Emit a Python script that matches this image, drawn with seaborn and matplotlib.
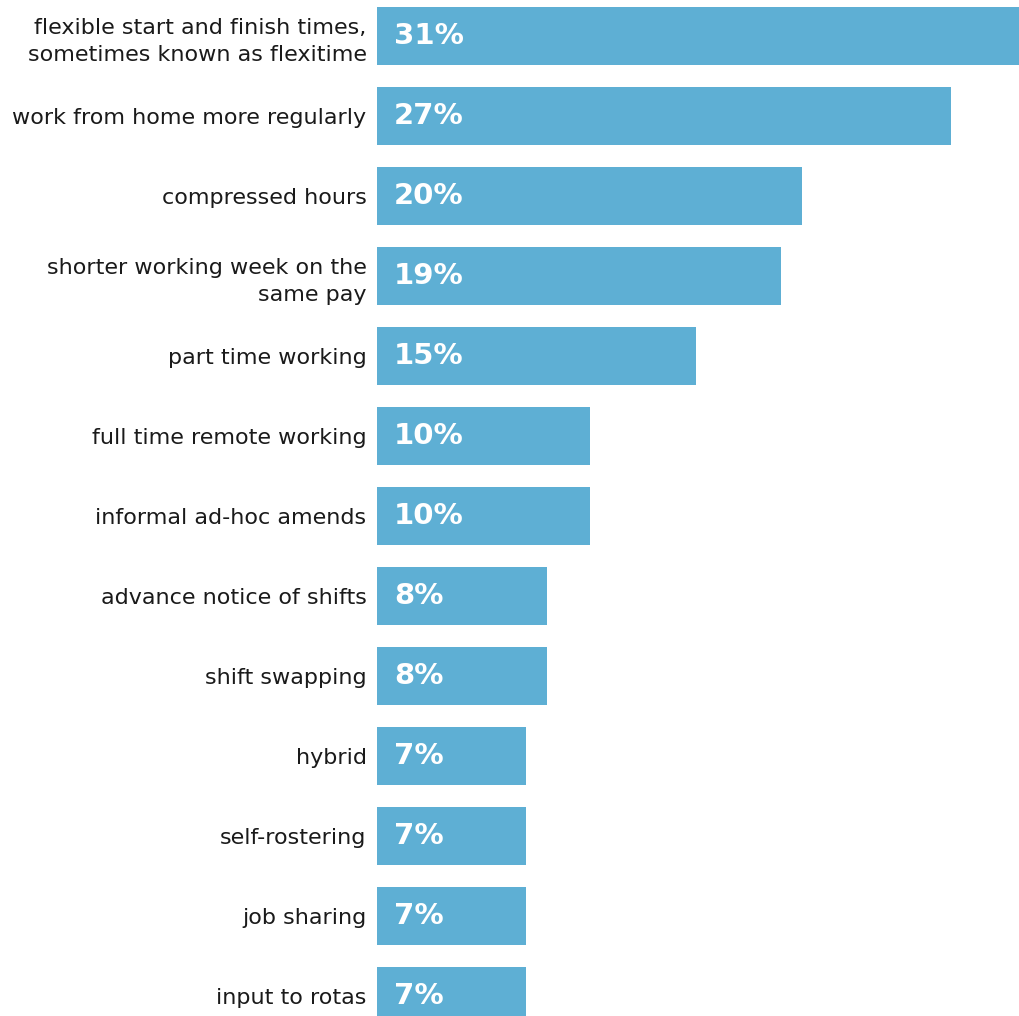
import matplotlib
matplotlib.use("Agg")
import matplotlib.pyplot as plt
import seaborn as sns
import pandas as pd

categories = [
    "flexible start and finish times,\nsometimes known as flexitime",
    "work from home more regularly",
    "compressed hours",
    "shorter working week on the\nsame pay",
    "part time working",
    "full time remote working",
    "informal ad-hoc amends",
    "advance notice of shifts",
    "shift swapping",
    "hybrid",
    "self-rostering",
    "job sharing",
    "input to rotas",
]
values = [31, 27, 20, 19, 15, 10, 10, 8, 8, 7, 7, 7, 7]
value_labels = ["31%", "27%", "20%", "19%", "15%", "10%", "10%", "8%", "8%", "7%", "7%", "7%", "7%"]

sns.set_theme(style="white")
plt.rcParams['font.family'] = ['DejaVu Sans']

df = pd.DataFrame({"cat": categories, "val": values})

fig = plt.figure(figsize=(10.19, 10.16), dpi=100)
ax = fig.add_axes([377/1019, 0, 1 - 377/1019, 1])
sns.barplot(data=df, y="cat", x="val", orient="h", color="#5eafd4",
            saturation=1, width=0.73, linewidth=0, edgecolor="none", ax=ax)
ax.set_xlim(0, 30.2)
ax.set_ylim(12.25, -0.45)
for s in ax.spines.values():
    s.set_visible(False)
ax.set_xticks([])
ax.set_xlabel("")
ax.set_ylabel("")
ax.tick_params(axis="y", length=0, pad=7.5, labelsize=16, labelcolor="#1a1a1a")
for lab in ax.get_yticklabels():
    lab.set_horizontalalignment("right")
    lab.set_multialignment("right")
    lab.set_linespacing(1.45)
for i, (v, t) in enumerate(zip(values, value_labels)):
    ax.text(0.8, i, t, color="white", fontsize=21, fontweight="bold",
            va="center", ha="left")
fig.savefig("out.png", dpi=100)
